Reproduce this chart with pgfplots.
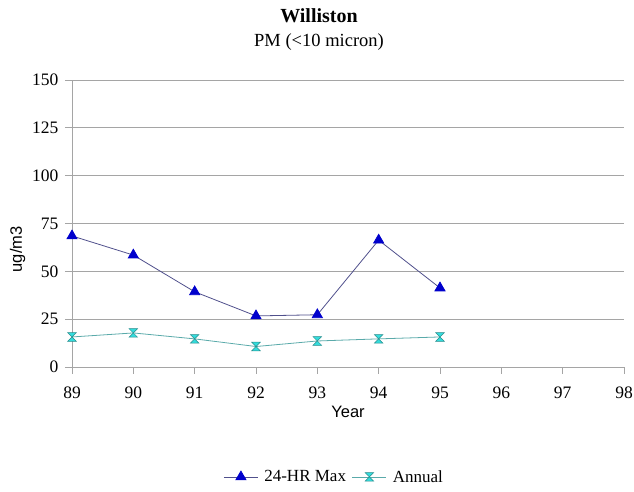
\documentclass[border=0pt]{standalone}
\usepackage{fontspec}
\setmainfont{Liberation Serif}
\setsansfont{Liberation Sans}
\usepackage{pgfplots}
\pgfplotsset{compat=1.18}
\definecolor{maxblue}{RGB}{0,0,204}
\definecolor{maxline}{RGB}{80,80,140}
\definecolor{anncyan}{RGB}{51,220,220}
\definecolor{annline}{RGB}{90,170,170}
\definecolor{anndark}{RGB}{40,140,140}
\definecolor{gridgray}{RGB}{165,165,165}
\pgfdeclareplotmark{hourglass}{%
  \pgfpathmoveto{\pgfqpoint{-\pgfplotmarksize}{\pgfplotmarksize}}%
  \pgfpathlineto{\pgfqpoint{\pgfplotmarksize}{\pgfplotmarksize}}%
  \pgfpathlineto{\pgfqpoint{-\pgfplotmarksize}{-\pgfplotmarksize}}%
  \pgfpathlineto{\pgfqpoint{\pgfplotmarksize}{-\pgfplotmarksize}}%
  \pgfpathclose
  \pgfusepathqfillstroke}
\begin{document}
\begin{tikzpicture}
\useasboundingbox (0,0) rectangle (634pt,492pt);
\node[font=\fontsize{20}{24}\selectfont\bfseries] at (319pt,476pt) {Williston};
\node[font=\fontsize{18.5}{22}\selectfont] at (319pt,450pt) {PM (<10 micron)};
\begin{axis}[
  at={(72pt,125pt)}, anchor=south west,
  scale only axis, width=552pt, height=287pt,
  xmin=89, xmax=98, ymin=0, ymax=150,
  xtick={89,...,98}, ytick={0,25,...,150},
  axis lines=left, axis line style={gridgray, line width=0.8pt, -},
  ymajorgrids, grid style={gridgray, line width=0.8pt},
  tick style={gridgray, line width=0.8pt},
  tick align=outside, major tick length=7pt,
  x tick label style={font=\fontsize{17.5}{20}\selectfont, yshift=-9pt},
  y tick label style={font=\fontsize{17.5}{20}\selectfont, xshift=-3pt},
  /pgf/number format/assume math mode=true,
  xticklabel style={/pgf/number format/1000 sep={}},
  xlabel={Year}, xlabel style={font=\sffamily\fontsize{16.5}{19}\selectfont, yshift=-1pt},
  ylabel={ug/m3}, ylabel style={font=\sffamily\fontsize{16.5}{19}\selectfont, at={(ticklabel cs:0.41)}},
  legend columns=2,
  legend style={at={(0.475,-0.383)}, anchor=center, draw=none, fill=none,
    font=\fontsize{17}{20}\selectfont, column sep=4pt},
  legend image code/.code={\draw[#1] (0pt,0pt) -- (34pt,0pt); \draw[#1, only marks] plot coordinates {(17pt,0pt)};},
]
\addplot[color=maxline, line width=0.8pt, mark=triangle*, mark size=5.8pt,
  mark options={fill=maxblue, draw=maxblue, solid}] coordinates {
  (89,68.5) (90,58.5) (91,39.3) (92,26.7) (93,27.3) (94,66.3) (95,41.3)};
\addlegendentry{24-HR Max}
\addplot[color=annline, line width=0.8pt, mark=hourglass, mark size=4.3pt,
  mark options={fill=anncyan, draw=anndark, line width=0.5pt, solid}] coordinates {
  (89,15.7) (90,17.8) (91,14.7) (92,10.7) (93,13.6) (94,14.7) (95,15.7)};
\addlegendentry{Annual}
\end{axis}
\end{tikzpicture}
\end{document}
